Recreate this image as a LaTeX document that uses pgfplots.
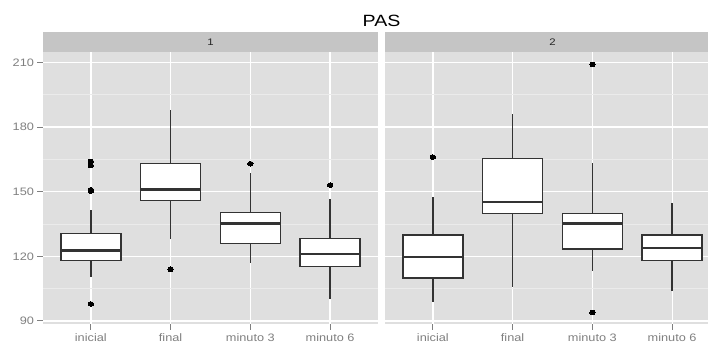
\documentclass[border=0pt]{standalone}
\usepackage{fontspec}
\setmainfont{Liberation Sans}
\newfontfamily\wide[FakeStretch=1.18]{Liberation Sans}
\newfontfamily\widet[FakeStretch=1.2]{Liberation Sans}
\usepackage{pgfplots}
\pgfplotsset{compat=1.18}
\usepgfplotslibrary{statistics}
\definecolor{bgc}{HTML}{DFDFDF}
\definecolor{stripc}{HTML}{C5C5C5}
\definecolor{minc}{HTML}{EBEBEB}
\definecolor{g50}{HTML}{7F7F7F}
\definecolor{g20}{HTML}{333333}
\pgfplotsset{
  panel/.style={
    width=335pt, height=272.3pt, scale only axis,
    xmin=0.4, xmax=4.6, ymin=88.6, ymax=215,
    xtick={1,2,3,4}, xticklabels={inicial,final,minuto 3,minuto 6},
    ytick={90,120,150,180,210}, minor ytick={105,135,165,195},
    xmajorgrids, ymajorgrids, yminorgrids,
    major grid style={white, line width=1.3pt},
    minor grid style={minc, line width=0.6pt},
    axis line style={draw=none},
    axis background/.style={fill=bgc},
    tick align=outside, major tick length=5.5pt, minor tick length=0pt,
    tick style={g50, line width=1pt},
    xtick pos=bottom, ytick pos=left,
    tick label style={font=\wide\fontsize{10.8}{12}\selectfont, text=g50},
    xticklabel style={yshift=-0.5pt},
    /pgf/number format/assume math mode=true,
    boxplot/draw direction=y,
    boxplot/box extend=0.75,
    boxplot/whisker extend=0,
    boxplot/every box/.style={fill=white, draw=g20, line width=1.5pt},
    boxplot/every whisker/.style={draw=g20, line width=1.6pt},
    boxplot/every median/.style={draw=g20, line width=2.4pt},
  },
  bx/.style={draw=g20, mark=*, mark size=2.3pt, mark options={fill=black, draw=black, line width=0pt, xscale=1.15}},
}
\begin{document}
\begin{tikzpicture}[x=1pt,y=1pt]
\path[use as bounding box] (0,0) rectangle (708,343);
\clip (0,0) rectangle (708,343);
% title
\node[font=\widet\fontsize{16.3}{18}\selectfont, text=black] at (381.5,322.3) {PAS};
% panel 1
\begin{axis}[panel, name=p1, at={(43pt,19pt)}, anchor=south west]
\addplot[bx, boxplot prepared={draw position=1, lower whisker=110.3, lower quartile=118, median=122.8, upper quartile=130.5, upper whisker=141.5}]
  table[row sep=\\, y index=0] {data\\150.3\\150.9\\162.2\\164.1\\97.9\\};
\addplot[bx, boxplot prepared={draw position=2, lower whisker=128, lower quartile=146, median=151.1, upper quartile=163.2, upper whisker=187.9}]
  table[row sep=\\, y index=0] {data\\114\\};
\addplot[bx, boxplot prepared={draw position=3, lower whisker=117, lower quartile=126, median=135.2, upper quartile=140.4, upper whisker=158.9}]
  table[row sep=\\, y index=0] {data\\163\\};
\addplot[bx, boxplot prepared={draw position=4, lower whisker=100, lower quartile=115.4, median=121, upper quartile=128.2, upper whisker=146.5}]
  table[row sep=\\, y index=0] {data\\153.1\\};
\end{axis}
% panel 2
\begin{axis}[panel, name=p2, at={(385pt,19pt)}, anchor=south west, yticklabels={}, y tick style={draw=none}]
\addplot[bx, boxplot prepared={draw position=1, lower whisker=99, lower quartile=110, median=119.8, upper quartile=129.8, upper whisker=147.7}]
  table[row sep=\\, y index=0] {data\\166.1\\};
\addplot[bx, boxplot prepared={draw position=2, lower whisker=105.9, lower quartile=140, median=145.1, upper quartile=165.5, upper whisker=185.9}]
  coordinates {};
\addplot[bx, boxplot prepared={draw position=3, lower whisker=113.2, lower quartile=123.3, median=135.2, upper quartile=140, upper whisker=163.2}]
  table[row sep=\\, y index=0] {data\\209.1\\93.9\\};
\addplot[bx, boxplot prepared={draw position=4, lower whisker=104, lower quartile=118, median=123.9, upper quartile=129.8, upper whisker=144.9}]
  coordinates {};
\end{axis}
% strips
\fill[stripc] (p1.north west) rectangle ([yshift=19.4pt]p1.north east);
\fill[stripc] (p2.north west) rectangle ([yshift=19.4pt]p2.north east);
\node[font=\widet\fontsize{9.5}{10}\selectfont, text=black!85] at ([yshift=9.7pt]p1.north) {1};
\node[font=\widet\fontsize{9.5}{10}\selectfont, text=black!85] at ([yshift=9.7pt]p2.north) {2};
\end{tikzpicture}
\end{document}
